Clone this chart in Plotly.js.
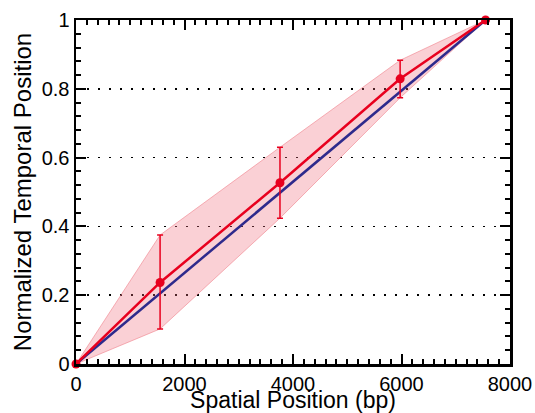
<!DOCTYPE html>
<html>
<head>
<meta charset="utf-8">
<script src="https://cdn.plot.ly/plotly-3.0.1.min.js"></script>
<style>html,body{margin:0;padding:0;background:#fff;}#chart{width:535px;height:413px;}</style>
</head>
<body>
<div id="chart"></div>
<script>
// Data
const spatialPos = [0, 1550, 3760, 5975, 7550];
const temporalMean = [0, 0.237, 0.527, 0.829, 1];
const errUpper = [0, 0.138, 0.103, 0.054, 0];
const errLower = [0, 0.135, 0.103, 0.055, 0];
const idealX = [0, 7550];
const idealY = [0, 1];
const xTickStep = 2000;
const yTickStep = 0.2;

const upperBand = temporalMean.map((v, i) => v + errUpper[i]);
const lowerBand = temporalMean.map((v, i) => v - errLower[i]);

const traces = [
  {x: spatialPos, y: lowerBand, mode: 'lines', line: {color: 'rgba(240,130,140,0.6)', width: 1}, hoverinfo: 'skip', showlegend: false},
  {x: spatialPos, y: upperBand, mode: 'lines', fill: 'tonexty', fillcolor: 'rgba(240,110,125,0.32)', line: {color: 'rgba(240,130,140,0.6)', width: 1}, hoverinfo: 'skip', showlegend: false},
  {x: idealX, y: idealY, mode: 'lines', line: {color: '#2e2a8c', width: 2.5}, showlegend: false},
  {x: spatialPos, y: temporalMean, mode: 'lines+markers', cliponaxis: false, line: {color: '#e8001e', width: 2.5},
   marker: {color: '#e8001e', size: 9},
   error_y: {type: 'data', symmetric: false, array: errUpper, arrayminus: errLower, color: '#e8001e', thickness: 1.5, width: 3},
   showlegend: false}
];

const fam = 'Liberation Sans, Arial, sans-serif';
const layout = {
  width: 535, height: 413,
  margin: {l: 76, r: 25, t: 20, b: 49},
  paper_bgcolor: '#fff', plot_bgcolor: '#fff',
  font: {family: fam, color: '#000'},
  showlegend: false,
  xaxis: {
    range: [0, 8000], tickmode: 'linear', tick0: 0, dtick: xTickStep,
    showline: true, linecolor: '#000', linewidth: 2.5, mirror: 'ticks',
    ticks: 'inside', ticklen: 10, tickwidth: 2, tickcolor: '#000',
    minor: {dtick: 200, ticks: 'inside', ticklen: 5, tickwidth: 2, tickcolor: '#000', showgrid: false},
    showgrid: false, zeroline: false,
    tickfont: {size: 20, family: fam, color: '#000'},
    title: {text: 'Spatial Position (bp)', font: {size: 23, family: fam, color: '#000'}, standoff: 9}
  },
  yaxis: {
    range: [0, 1], tickmode: 'linear', tick0: 0, dtick: yTickStep,
    showline: true, linecolor: '#000', linewidth: 2.5, mirror: 'ticks',
    ticks: 'inside', ticklen: 10, tickwidth: 2, tickcolor: '#000',
    minor: {dtick: 0.04, ticks: 'inside', ticklen: 5, tickwidth: 2, tickcolor: '#000', showgrid: false},
    showgrid: true, gridcolor: '#000', gridwidth: 1.5, griddash: '1.5px,9.5px', zeroline: false,
    tickfont: {size: 20, family: fam, color: '#000'},
    title: {text: 'Normalized Temporal Position', font: {size: 24, family: fam, color: '#000'}, standoff: 4}
  }
};

Plotly.newPlot('chart', traces, layout, {displayModeBar: false, staticPlot: true});
</script>
</body>
</html>
